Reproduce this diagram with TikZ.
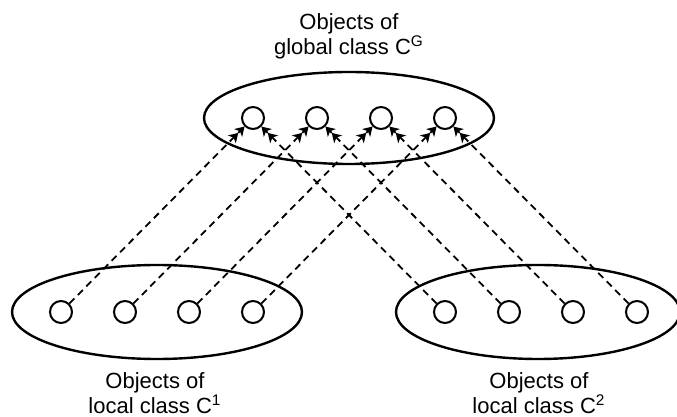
\documentclass[tikz,border=0pt]{standalone}
\usepackage{fontspec}
\setmainfont{Liberation Sans}
\usetikzlibrary{arrows.meta,shapes.geometric}

\tikzset{
  group/.style={ellipse,draw,line width=1.2pt,inner sep=0pt},
  obj/.style={circle,draw,line width=1pt,minimum size=11pt,inner sep=0pt},
  link/.style={line width=0.9pt,dash pattern=on 3.5pt off 2.5pt,
    -{Stealth[length=4.5pt,width=5.5pt,inset=1.2pt]Stealth[length=4.5pt,width=5.5pt,inset=1.2pt]}},
  caption/.style={align=center,inner sep=0pt,font=\fontsize{11}{10.2}\selectfont}
}

\begin{document}
\begin{tikzpicture}[x=0.5pt,y=-0.5pt]
		\useasboundingbox (0,0) rectangle (677,417);
		\node[group,minimum width=145pt,minimum height=46pt] (glob) at (349,118) {};
		\node[group,minimum width=145pt,minimum height=47pt] (loc1) at (157,312) {};
		\node[group,minimum width=142pt,minimum height=47pt] (loc2) at (538,312) {};
		\foreach \i/\x in {1/253,2/317,3/381,4/445}
			\node[obj] (g\i) at (\x,118) {};
		\foreach \i/\x in {1/61,2/125,3/189,4/253}
			\node[obj] (a\i) at (\x,312) {};
		\foreach \i/\x in {1/445,2/509,3/573,4/637}
			\node[obj] (b\i) at (\x,312) {};
		\foreach \i in {1,...,4} {
			\draw[link] (a\i) -- (g\i);
			\draw[link] (b\i) -- (g\i);
		}
		\node[caption] (tglob) at (349,36) {Objects of\\global class C\textsuperscript{G}};
		\node[caption] (tloc1) at (155,393) {Objects of\\local class C\textsuperscript{1}};
		\node[caption] (tloc2) at (539,393) {Objects of\\local class C\textsuperscript{2}};
	\end{tikzpicture}
\end{document}
